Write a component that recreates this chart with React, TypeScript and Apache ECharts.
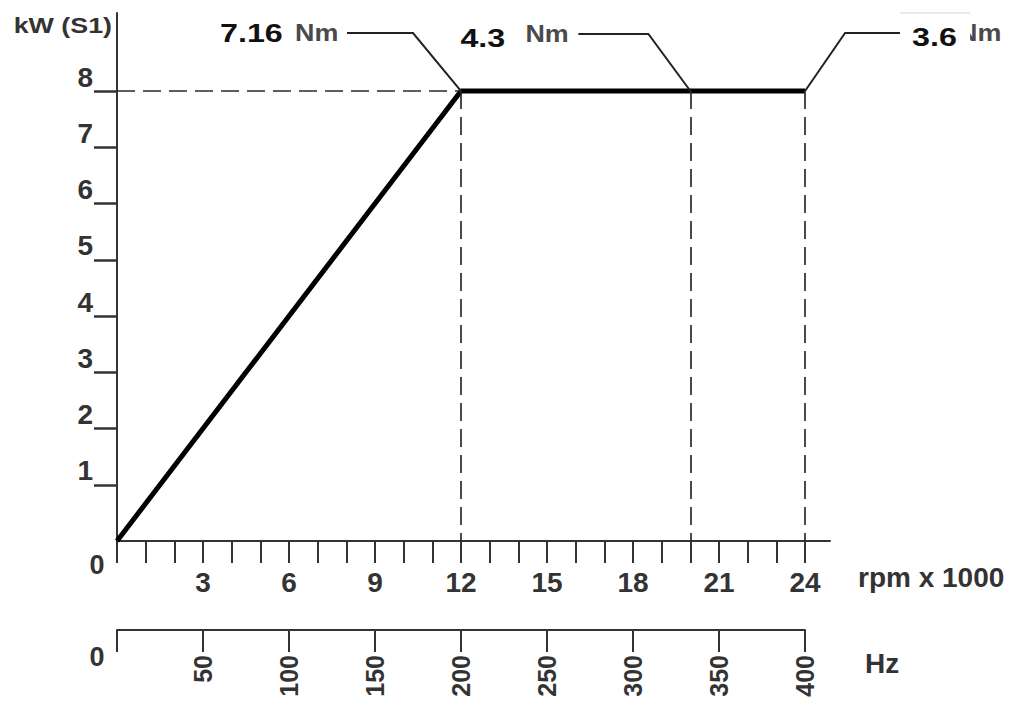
import React, { useEffect, useRef } from "react";
import * as echarts from "echarts";

// ---- data ----
const rpmPoints = [0, 12, 24]; // rpm x 1000
const kwPoints = [0, 8, 8]; // kW (S1)
const plateauKw = 8;
const dashedRpm = [12, 20, 24];
const torqueValues = ["7.16", "4.3", "3.6"];
const torqueUnit = "Nm";
const kwTicks = [1, 2, 3, 4, 5, 6, 7, 8];
const rpmTicks = [0, 1, 2, 3, 4, 5, 6, 7, 8, 9, 10, 11, 12, 13, 14, 15, 16, 17, 18, 19, 20, 21, 22, 23, 24];
const rpmLabels = [3, 6, 9, 12, 15, 18, 21, 24];
const hzTicks = [0, 50, 100, 150, 200, 250, 300, 350, 400];
const hzLabels = [50, 100, 150, 200, 250, 300, 350, 400];
const rpmAxisName = "rpm x 1000";
const hzAxisName = "Hz";
const kwAxisName = "kW (S1)";
const rpmAxisMax = 24.87;
const hzMax = 400;
const kwAxisMax = 9.387;

const FONT = '"Liberation Sans", Arial, sans-serif';
const AXIS_COLOR = "#333";
const HZ_OFFSET = 89;

// annotation layout (pixel offsets from anchor point)
const annLayout = [
  { knee: [-48, -58], end: [-114, -58], val: [-241, -58], unit: [-166, -58], box: null },
  { knee: [-42, -57], end: [-112, -57], val: [-230, -53], unit: [-165, -57], box: null },
  { knee: [40, -58], end: [95, -58], val: [107, -54], unit: [153, -58], box: [95, -78, 70, 44] },
];

function txt(text: string, x: number, y: number, size: number, align: string, extra: any = {}) {
  return {
    type: "text",
    x,
    y,
    z: 10,
    ...extra,
    style: {
      text,
      fontFamily: FONT,
      fontWeight: "bold",
      fontSize: size,
      fill: extra.fill || "#333",
      align,
      verticalAlign: "middle",
      textAlign: align,
      textVerticalAlign: "middle",
    },
  };
}

export default function App() {
  const ref = useRef<HTMLDivElement>(null);

  useEffect(() => {
    if (!ref.current) return;
    const chart = echarts.init(ref.current, undefined, { renderer: "svg" });

    const tickLabel = {
      fontFamily: FONT,
      fontWeight: "bold" as const,
      color: "#333",
      fontSize: 28,
    };

    const option: any = {
      animation: false,
      backgroundColor: "#ffffff",
      grid: [
        { left: 117, right: 181, top: 13, bottom: 163 },
        { left: 117, right: 206, top: 13, bottom: 163 },
      ],
      xAxis: [
        {
          type: "value",
          gridIndex: 0,
          min: 0,
          max: rpmAxisMax,
          position: "bottom",
          axisLine: { show: true, onZero: false, lineStyle: { color: AXIS_COLOR, width: 2 } },
          axisTick: {
            show: true,
            inside: false,
            length: 22,
            customValues: rpmTicks,
            lineStyle: { color: AXIS_COLOR, width: 2 },
          },
          axisLabel: { show: true, customValues: rpmLabels, margin: 27, ...tickLabel },
          splitLine: { show: false },
        },
        {
          type: "value",
          gridIndex: 1,
          min: 0,
          max: hzMax,
          position: "bottom",
          offset: HZ_OFFSET,
          axisLine: { show: true, onZero: false, lineStyle: { color: AXIS_COLOR, width: 2 } },
          axisTick: {
            show: true,
            inside: false,
            length: 22,
            customValues: hzTicks,
            lineStyle: { color: AXIS_COLOR, width: 2 },
          },
          axisLabel: {
            show: true,
            customValues: hzLabels,
            rotate: 90,
            margin: 25,
            ...tickLabel,
            fontSize: 25,
          },
          splitLine: { show: false },
        },
      ],
      yAxis: [
        {
          type: "value",
          gridIndex: 0,
          min: 0,
          max: kwAxisMax,
          axisLine: { show: true, onZero: false, lineStyle: { color: AXIS_COLOR, width: 2 } },
          axisTick: {
            show: true,
            inside: false,
            length: 23,
            customValues: kwTicks,
            lineStyle: { color: AXIS_COLOR, width: 2.5 },
          },
          axisLabel: {
            show: true,
            customValues: kwTicks,
            margin: 24,
            verticalAlign: "bottom",
            ...tickLabel,
          },
          splitLine: { show: false },
        },
        { type: "value", gridIndex: 1, min: 0, max: kwAxisMax, show: false },
      ],
      series: [
        {
          type: "line",
          xAxisIndex: 0,
          yAxisIndex: 0,
          data: rpmPoints.map((r, i) => [r, kwPoints[i]]),
          symbol: "none",
          silent: true,
          lineStyle: { color: "#000", width: 5 },
          z: 4,
          markLine: {
            silent: true,
            symbol: ["none", "none"],
            label: { show: false },
            emphasis: { disabled: true },
            lineStyle: { type: [18, 8], color: "#2a2a2a", width: 1.7 },
            data: [
              [{ coord: [0, plateauKw] }, { coord: [dashedRpm[0], plateauKw] }],
              ...dashedRpm.map((r) => [{ coord: [r, plateauKw] }, { coord: [r, 0] }]),
            ],
          },
        },
      ],
    };

    chart.setOption(option);

    // ---- texts and annotations anchored on axis/data positions ----
    const graphics: any[] = [];
    const origin = chart.convertToPixel({ xAxisIndex: 0, yAxisIndex: 0 }, [0, 0]) as number[];
    const yTop = chart.convertToPixel({ xAxisIndex: 0, yAxisIndex: 0 }, [0, kwAxisMax]) as number[];
    const xEnd = chart.convertToPixel({ xAxisIndex: 0, yAxisIndex: 0 }, [rpmAxisMax, 0]) as number[];
    const hzEnd = chart.convertToPixel({ xAxisIndex: 1, yAxisIndex: 1 }, [hzMax, 0]) as number[];

    graphics.push(txt(kwAxisName, yTop[0] - 5, yTop[1] + 12, 22, "right", { scaleX: 1.22 }));
    graphics.push(txt("0", origin[0] - 20, origin[1] + 24, 27, "center"));
    graphics.push(txt("0", origin[0] - 20, origin[1] + HZ_OFFSET + 27, 27, "center"));
    graphics.push(txt(rpmAxisName, xEnd[0] + 28, xEnd[1] + 36, 28, "left"));
    graphics.push(txt(hzAxisName, hzEnd[0] + 60, hzEnd[1] + HZ_OFFSET + 33, 28, "left"));

    dashedRpm.forEach((r, i) => {
      const p = chart.convertToPixel({ xAxisIndex: 0, yAxisIndex: 0 }, [r, plateauKw]) as number[];
      const L = annLayout[i];
      graphics.push({
        type: "polyline",
        z: 10,
        shape: {
          points: [
            [p[0], p[1]],
            [p[0] + L.knee[0], p[1] + L.knee[1]],
            [p[0] + L.end[0], p[1] + L.end[1]],
          ],
        },
        style: { stroke: "#222", lineWidth: 2, fill: "none" },
      });
      graphics.push(
        txt(torqueUnit, p[0] + L.unit[0], p[1] + L.unit[1], 24, "left", {
          scaleX: 1.12,
          z: 11,
          fill: "#4a4a4a",
        })
      );
      if (L.box) {
        graphics.push({
          type: "rect",
          z: 12,
          shape: { x: p[0] + L.box[0], y: p[1] + L.box[1], width: L.box[2], height: L.box[3] },
          style: { fill: "#ffffff", stroke: "none" },
        });
        graphics.push({
          type: "line",
          z: 12,
          shape: {
            x1: p[0] + L.box[0],
            y1: p[1] + L.box[1],
            x2: p[0] + L.box[0] + L.box[2],
            y2: p[1] + L.box[1],
          },
          style: { stroke: "#d4d4d4", lineWidth: 1 },
        });
      }
      graphics.push(
        txt(torqueValues[i], p[0] + L.val[0], p[1] + L.val[1], 26, "left", {
          scaleX: 1.24,
          z: 13,
          fill: "#111",
        })
      );
    });

    chart.setOption({ graphic: graphics });

    return () => {
      chart.dispose();
    };
  }, []);

  return (
    <div
      ref={ref}
      style={{ position: "absolute", left: 0, top: 0, width: 1011, height: 704, background: "#fff" }}
    />
  );
}
